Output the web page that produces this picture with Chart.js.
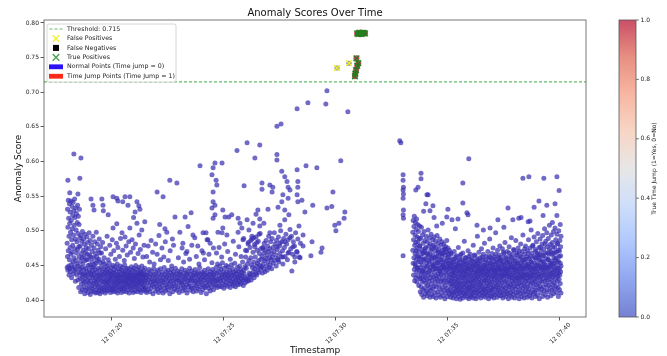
<!DOCTYPE html>
<html>
<head>
<meta charset="utf-8">
<script src="https://cdn.jsdelivr.net/npm/chart.js@4.4.1/dist/chart.umd.min.js"></script>
<style>
  html, body { margin: 0; padding: 0; background: #fff; }
  #wrap { width: 667px; height: 356px; }
</style>
</head>
<body>
<div id="wrap"><canvas id="c" width="667" height="356"></canvas></div>
<script>
// x values are seconds after 07:00:00 on day 12
const THRESHOLD = 0.715;
const X_MIN = 1018, X_MAX = 2470;
const Y_MIN = 0.3755, Y_MAX = 0.8043;
const xTickValues = [1200, 1500, 1800, 2100, 2400];
const xTickLabels = ["12 07:20", "12 07:25", "12 07:30", "12 07:35", "12 07:40"];
const yTickValues = [0.40, 0.45, 0.50, 0.55, 0.60, 0.65, 0.70, 0.75, 0.80];
const colorbarTicks = [0.0, 0.2, 0.4, 0.6, 0.8, 1.0];
const legendLabels = ["Threshold: 0.715", "False Positives", "False Negatives", "True Positives",
  "Normal Points (Time jump = 0)", "Time Jump Points (Time Jump = 1)"];

// normal points, first run (dense band)
const leftBand = [
[1080,.447],[1080,.482],[1081,.531],[1081,.463],[1082,.505],[1082,.443],[1083,.544],[1083,.471],[1084,.518],[1084,.449],[1085,.492],[1085,.436],[1086,.539],[1086,.458],[1087,.511],[1087,.445],[1088,.527],[1088,.476],[1089,.498],[1089,.441],[1090,.543],[1090,.466],[1091,.515],[1091,.451],[1092,.487],[1092,.432],[1093,.535],[1093,.469],[1094,.503],[1094,.446],[1095,.522],[1095,.479],[1096,.541],[1096,.455],[1097,.494],[1097,.438],[1098,.529],[1098,.461],[1099,.508],[1099,.448],[1100,.546],[1100,.474],[1101,.519],[1101,.442],[1102,.488],[1102,.427],[1103,.533],[1103,.457],[1104,.501],[1104,.444],[1105,.525],[1105,.468],[1106,.484],[1106,.436],[1107,.512],[1107,.452],[1108,.537],[1108,.473],[1109,.496],[1109,.429],[1110,.521],[1110,.449],[1111,.477],[1111,.418],[1112,.509],[1112,.462],[1113,.531],[1113,.439],[1114,.490],[1114,.445],
[1115,.478],[1115,.431],[1116,.456],[1116,.412],[1117,.493],[1117,.440],[1118,.467],[1118,.423],[1119,.485],[1119,.447],[1120,.434],[1120,.461],[1121,.415],[1121,.499],[1122,.452],[1122,.428],[1123,.472],[1123,.437],[1124,.419],[1124,.488],[1125,.444],[1125,.463],[1126,.426],[1126,.481],[1127,.438],[1127,.409],[1128,.457],[1128,.495],[1129,.431],[1129,.469],[1130,.446],[1130,.414],[1131,.476],[1131,.435],[1132,.423],[1132,.458],[1133,.491],[1133,.441],[1134,.417],[1134,.466],[1135,.429],[1135,.483],[1136,.450],[1136,.411],[1137,.437],[1137,.474],[1138,.425],[1138,.459],[1139,.443],[1139,.497],[1140,.418],[1140,.465],[1141,.432],[1141,.451],[1142,.408],[1142,.486],[1143,.439],[1143,.427],[1144,.462],[1144,.413],[1145,.448],[1145,.479],[1146,.421],[1146,.436],[1147,.470],[1147,.442],[1148,.416],[1148,.455],[1149,.433],[1149,.492],[1150,.424],[1150,.447],[1151,.461],[1151,.412],[1152,.438],[1152,.475],[1153,.428],[1153,.451],[1154,.419],[1154,.484],[1155,.444],[1155,.432],[1156,.467],[1156,.410],[1157,.426],[1157,.453],[1158,.440],[1158,.498],[1159,.415],[1159,.463],[1160,.435],[1160,.422],[1161,.457],[1161,.481],[1162,.429],[1162,.411],[1163,.446],[1163,.472],[1164,.420],[1164,.437],[1165,.459],[1165,.414],[1166,.488],[1166,.431],[1167,.443],[1167,.425],[1168,.468],[1168,.409],[1169,.436],[1169,.454],[1170,.418],[1170,.477],
[1171,.433],[1172,.416],[1172,.448],[1173,.427],[1174,.441],[1174,.412],[1175,.437],[1176,.422],[1176,.455],[1177,.430],[1178,.445],[1178,.414],[1179,.426],[1180,.439],[1180,.419],[1181,.452],[1182,.434],[1182,.410],[1183,.428],[1184,.443],[1184,.417],[1185,.436],[1186,.424],[1186,.449],[1187,.413],[1188,.431],[1188,.440],[1189,.421],[1190,.446],[1190,.427],[1191,.415],[1192,.438],[1192,.425],[1193,.453],[1194,.418],[1194,.433],[1195,.442],[1196,.411],[1196,.429],[1197,.437],[1198,.420],[1198,.447],[1199,.432],[1200,.414],[1200,.440],[1201,.426],[1202,.435],[1202,.417],[1203,.450],[1204,.423],[1204,.412],[1205,.439],[1206,.428],[1206,.444],[1207,.416],[1208,.434],[1208,.421],[1209,.448],[1210,.430],[1210,.413],[1211,.441],[1212,.425],[1212,.436],[1213,.419],[1214,.452],[1214,.431],[1215,.410],[1216,.437],[1216,.424],[1217,.445],[1218,.418],[1218,.433],[1219,.427],[1220,.442],[1220,.414],[1221,.435],[1222,.422],[1222,.449],[1223,.429],[1224,.416],[1224,.438],[1225,.426],[1226,.443],[1226,.411],[1227,.432],[1228,.420],[1228,.447],[1229,.435],[1230,.417],[1230,.428],[1231,.440],[1232,.423],[1232,.413],[1233,.437],[1234,.430],[1234,.451],[1235,.418],[1236,.426],[1236,.441],[1237,.434],[1238,.412],[1238,.445],[1239,.424],[1240,.431],[1240,.419],[1241,.438],[1242,.427],[1242,.446],[1243,.415],[1244,.433],[1244,.422],[1245,.440],[1246,.429],[1246,.410],[1247,.436],[1248,.421],[1248,.444],[1249,.431],[1250,.417],[1250,.439],[1251,.425],[1252,.434],[1252,.448],[1253,.414],[1254,.428],[1254,.437],[1255,.420],[1256,.443],[1256,.426],[1257,.411],[1258,.435],[1258,.430],[1259,.446],[1260,.419],[1260,.432],[1261,.424],[1262,.441],[1262,.413],[1263,.436],[1264,.427],[1264,.450],[1265,.418],[1266,.433],[1266,.422],[1267,.439],[1268,.429],[1268,.412],[1269,.444],[1270,.425],[1270,.436],[1271,.416],[1272,.431],[1272,.447],[1273,.421],[1274,.438],[1274,.428],[1275,.414],[1276,.435],[1276,.442],[1277,.423],[1278,.430],[1278,.411],[1279,.440],[1280,.426],[1280,.449],[1281,.419],[1282,.434],[1282,.437],[1283,.415],[1284,.443],[1284,.428],[1285,.421],[1286,.438],[1286,.432],[1287,.417],[1288,.446],[1288,.425],[1289,.413],[1290,.436],[1290,.429],
[1172,.468],[1175,.483],[1179,.461],[1183,.474],[1187,.492],[1190,.458],[1194,.479],[1197,.466],[1201,.487],[1203,.504],[1205,.471],[1209,.459],[1212,.482],[1213,.510],[1216,.476],[1220,.463],[1223,.489],[1227,.497],[1229,.472],[1233,.457],[1235,.491],[1238,.478],[1241,.465],[1245,.484],[1248,.504],[1250,.469],[1254,.487],[1257,.475],[1260,.460],[1263,.481],[1267,.511],[1270,.467],[1273,.494],[1276,.473],[1280,.501],[1283,.462],[1286,.479],[1288,.513],
[1291,.418],[1292,.432],[1293,.411],[1294,.440],[1295,.425],[1296,.436],[1297,.415],[1298,.429],[1299,.444],[1300,.421],[1301,.433],[1302,.412],[1303,.438],[1304,.426],[1305,.417],[1306,.442],[1307,.430],[1308,.422],[1309,.435],[1310,.409],[1311,.427],[1312,.446],[1313,.419],[1314,.437],[1315,.424],[1316,.431],[1317,.413],[1318,.440],[1319,.428],[1320,.420],[1321,.434],[1322,.416],[1323,.443],[1324,.426],[1325,.411],[1326,.438],[1327,.423],[1328,.432],[1329,.418],[1330,.445],[1331,.429],[1332,.414],[1333,.436],[1334,.421],[1335,.440],[1336,.427],[1337,.410],[1338,.433],[1339,.425],[1340,.447],[1341,.417],[1342,.437],[1343,.430],[1344,.413],[1345,.441],[1346,.422],[1347,.434],[1348,.419],[1349,.428],[1350,.443],[1351,.415],[1352,.436],[1353,.424],[1354,.431],[1355,.409],[1356,.439],[1357,.426],[1358,.418],[1359,.444],[1360,.432],[1361,.420],[1362,.437],[1363,.412],[1364,.428],[1365,.441],[1366,.423],[1367,.435],[1368,.416],[1369,.430],[1370,.446],[1371,.421],[1372,.438],[1373,.427],[1374,.414],[1375,.433],[1376,.442],[1377,.419],[1378,.429],[1379,.436],[1380,.411],[1381,.425],[1382,.440],[1383,.431],[1384,.417],[1385,.437],[1386,.424],[1387,.445],[1388,.428],[1389,.413],[1390,.434],[1391,.421],[1392,.439],[1393,.426],[1394,.418],[1395,.432],[1396,.443],[1397,.415],[1398,.430],[1399,.436],[1400,.422],[1401,.410],[1402,.438],[1403,.427],[1404,.441],[1405,.419],[1406,.433],[1407,.424],[1408,.446],[1409,.429],[1410,.414],[1411,.437],[1412,.420],[1413,.431],[1414,.442],[1415,.417],[1416,.428],[1417,.435],[1418,.412],[1419,.439],[1420,.425],[1421,.432],[1422,.418],[1423,.444],[1424,.427],[1425,.436],[1426,.421],[1427,.413],[1428,.438],[1429,.430],[1430,.424],[1431,.441],[1432,.416],[1433,.434],[1434,.427],[1435,.447],[1436,.419],[1437,.431],[1438,.437],[1439,.411],[1440,.426],[1441,.440],[1442,.422],[1443,.433],[1444,.415],[1445,.438],[1446,.429],[1447,.420],[1448,.443],[1449,.432],[1450,.418],[1451,.436],[1452,.425],[1453,.409],[1454,.439],[1455,.428],[1456,.421],[1457,.434],[1458,.445],[1459,.417],[1460,.430],[1461,.437],[1462,.423],[1463,.413],[1464,.441],[1465,.427],[1466,.433],[1467,.419],[1468,.438],[1469,.426],[1470,.444],[1471,.431],[1472,.415],[1473,.436],[1474,.422],[1475,.440],[1476,.428],
[1293,.463],[1297,.478],[1301,.455],[1305,.486],[1309,.469],[1313,.452],[1317,.481],[1321,.466],[1326,.493],[1330,.458],[1334,.475],[1339,.462],[1343,.484],[1351,.457],[1356,.471],[1360,.449],[1365,.479],[1378,.461],[1392,.455],[1398,.467],[1408,.459],[1426,.463],[1433,.452],[1441,.471],[1448,.458],[1460,.466],[1468,.454],[1472,.475],
[1477,.433],[1478,.421],[1479,.447],[1480,.428],[1481,.439],[1482,.418],[1483,.452],[1484,.430],[1485,.425],[1486,.442],[1487,.436],[1488,.420],[1489,.449],[1490,.431],[1491,.427],[1492,.444],[1493,.419],[1494,.437],[1495,.433],[1496,.454],[1497,.424],[1498,.440],[1499,.429],[1500,.417],[1501,.446],[1502,.435],[1503,.422],[1504,.438],[1505,.431],[1506,.450],[1507,.426],[1508,.441],[1509,.420],[1510,.434],[1511,.448],[1512,.429],[1513,.437],[1514,.423],[1515,.443],[1516,.432],[1517,.418],[1518,.439],[1519,.427],[1520,.451],[1521,.435],[1522,.424],[1523,.445],[1524,.430],[1525,.421],[1526,.440],[1527,.436],[1528,.426],[1529,.453],[1530,.433],[1531,.419],[1532,.442],[1533,.429],[1534,.438],[1535,.425],[1536,.447],[1537,.432],[1538,.422],[1539,.441],[1540,.434],[1541,.428],[1542,.449],[1543,.437],[1544,.423],[1545,.444],[1546,.431],[1547,.426],[1548,.440],[1549,.435],[1550,.455],[1551,.429],[1552,.421],[1553,.443],[1554,.438],[1555,.432],
[1556,.448],[1557,.425],[1558,.462],[1559,.430],[1560,.446],[1561,.471],[1562,.427],[1563,.452],[1564,.434],[1565,.483],[1566,.428],[1567,.457],[1568,.439],[1569,.433],[1570,.476],[1571,.437],[1572,.461],[1573,.429],[1574,.451],[1575,.488],[1576,.447],[1577,.436],[1578,.469],[1579,.441],[1580,.455],[1581,.432],[1582,.480],[1583,.445],[1584,.462],[1585,.438],[1586,.491],[1587,.449],[1588,.436],[1589,.472],[1590,.453],[1591,.443],[1592,.485],[1593,.457],[1594,.440],[1595,.467],[1596,.450],[1597,.496],[1598,.446],[1599,.474],[1600,.459],
[1480,.468],[1487,.476],[1494,.462],[1502,.481],[1510,.470],[1517,.459],[1525,.485],[1531,.466],[1540,.477],[1546,.463],[1553,.489],[1558,.472],[1565,.481],[1572,.486],[1580,.490],[1588,.483],[1594,.495],
[1601,.448],[1602,.463],[1603,.439],[1604,.476],[1605,.452],[1606,.445],[1607,.468],[1608,.482],[1609,.457],[1610,.441],[1611,.472],[1612,.460],[1613,.486],[1614,.449],[1615,.465],[1616,.443],[1617,.478],[1618,.455],[1619,.470],[1620,.492],[1621,.447],[1622,.461],[1623,.474],[1624,.451],[1625,.484],[1626,.458],[1627,.467],[1628,.445],[1629,.489],[1630,.462],[1631,.476],[1632,.453],[1634,.470],[1635,.497],[1636,.457],[1637,.481],[1639,.465],[1640,.449],[1641,.486],[1643,.473],[1644,.460],[1646,.491],[1647,.455],[1649,.478],[1650,.467],[1652,.500],[1653,.462],[1655,.484],[1657,.471],[1658,.452],[1660,.489],[1662,.476],[1664,.463],[1666,.495],[1668,.481],[1670,.458],[1672,.487],[1674,.469],[1677,.502],[1679,.474],[1681,.492],[1684,.466],[1686,.484],[1689,.478],[1692,.497],[1695,.470],[1698,.488],[1702,.462],[1705,.482]
];

// normal points, first run (scattered above the band)
const leftSpread = [
[1082,.573],[1098,.611],[1117,.605],[1114,.576],[1087,.555],[1109,.553],
[1144,.546],[1149,.537],[1152,.530],[1173,.546],[1176,.537],[1177,.529],[1203,.549],[1213,.547],[1216,.543],[1229,.542],[1235,.549],[1248,.549],[1243,.537],[1267,.542],[1272,.536],[1262,.527],[1275,.531],[1190,.523],[1258,.519],
[1321,.556],[1337,.549],[1355,.573],[1374,.569],[1369,.520],[1347,.498],[1396,.520],[1412,.526],[1404,.506],[1382,.498],[1417,.494],[1422,.490],[1444,.497],[1452,.497],[1455,.487],[1414,.479],[1401,.470],[1388,.475],[1436,.594],[1463,.482],[1457,.487],[1390,.482],[1430,.478],[1445,.468],[1362,.488],[1328,.509],[1342,.503],
[1468,.533],[1476,.523],[1471,.518],[1497,.530],[1503,.520],[1497,.504],[1513,.520],[1484,.498],[1495,.497],[1508,.494],[1521,.523],[1538,.518],[1543,.511],[1548,.504],[1567,.501],[1562,.516],[1578,.511],[1586,.524],[1591,.530],[1596,.517],[1596,.507],[1538,.498],[1551,.487],[1575,.492],[1583,.477],[1471,.591],[1476,.598],[1495,.598],[1468,.581],[1479,.573],[1481,.566],[1471,.556],[1471,.542],[1476,.537],[1535,.616],[1562,.627],[1596,.624],[1583,.605],[1554,.565],[1602,.569],[1602,.560],
[1605,.475],[1623,.497],[1642,.477],[1650,.482],[1663,.484],[1677,.490],[1685,.477],[1672,.468],[1658,.462],[1645,.458],[1690,.462],[1696,.469],[1607,.511],[1618,.531],[1623,.566],[1631,.563],[1629,.556],[1655,.586],[1663,.578],[1669,.571],[1672,.563],[1677,.559],[1658,.552],[1672,.547],[1655,.542],[1645,.534],[1663,.530],[1674,.523],[1663,.516],[1650,.508],[1696,.588],[1698,.563],[1698,.542],[1642,.651],[1653,.654],[1696,.676],[1642,.610],[1642,.602],
[1776,.702],[1725,.685],[1773,.683],[1832,.672],[1813,.601],[1720,.594],[1749,.591],[1792,.556],[1738,.537],[1789,.535],[1776,.533],[1824,.527],[1822,.518],[1808,.511],[1797,.508],[1800,.500],[1698,.571],[1696,.552],[1709,.544],[1717,.527],[1701,.507],[1712,.494],[1712,.478],[1736,.484],[1763,.475],[1760,.469],[1733,.464],[1704,.461],[1690,.455],[1682,.442],
[1803,.735],[1835,.742]
];

// normal points, second run (dense block)
const rightBand = [
[2006,.498],[2006,.472],[2007,.515],[2007,.453],[2008,.487],[2008,.436],[2009,.506],[2009,.461],[2010,.521],[2010,.444],[2011,.479],[2011,.428],[2012,.494],[2012,.467],[2013,.512],[2013,.449],[2014,.483],[2014,.432],[2015,.502],[2015,.458],[2016,.517],[2016,.441],[2017,.475],[2017,.426],[2018,.491],[2018,.464],[2019,.509],[2019,.446],[2020,.484],[2020,.435],[2021,.499],[2021,.455],[2022,.470],[2022,.421],[2023,.489],[2023,.443],[2024,.507],[2024,.460],[2025,.478],[2025,.431],
[2026,.447],[2026,.412],[2027,.489],[2027,.431],[2028,.462],[2028,.419],[2029,.505],[2029,.438],[2030,.473],[2030,.408],[2031,.451],[2031,.426],[2032,.494],[2032,.443],[2033,.467],[2033,.415],[2034,.482],[2034,.434],[2035,.457],[2035,.404],[2036,.499],[2036,.428],[2037,.470],[2037,.446],[2038,.441],[2038,.417],[2039,.486],[2039,.433],[2040,.460],[2040,.409],[2041,.476],[2041,.424],[2042,.492],[2042,.439],[2043,.453],[2043,.413],[2044,.468],[2044,.430],[2045,.484],[2045,.406],[2046,.449],[2046,.421],[2047,.501],[2047,.436],[2048,.463],[2048,.411],[2049,.478],[2049,.427],[2050,.455],[2050,.442],[2051,.490],[2051,.418],[2052,.466],[2052,.404],[2053,.481],[2053,.432],[2054,.447],[2054,.414],[2055,.495],[2055,.437],[2056,.459],[2056,.423],[2057,.474],[2057,.408],[2058,.452],[2058,.429],[2059,.487],[2059,.444],[2060,.465],[2060,.416],[2061,.479],[2061,.405],[2062,.450],[2062,.433],[2063,.491],[2063,.420],[2064,.461],[2064,.440],[2065,.471],[2065,.410],[2066,.456],[2066,.426],[2067,.485],[2067,.435],[2068,.448],[2068,.403],[2069,.476],[2069,.419],[2070,.462],[2070,.431],[2071,.493],[2071,.445],[2072,.454],[2072,.412],[2073,.469],[2073,.428],[2074,.482],[2074,.438],[2075,.445],[2075,.407],[2076,.473],[2076,.422],[2077,.458],[2077,.434],[2078,.488],[2078,.416],[2079,.451],[2079,.441],[2080,.466],[2080,.404],[2081,.479],[2081,.427],[2082,.447],[2082,.437],[2083,.463],[2083,.411],[2084,.484],[2084,.430],[2085,.455],[2085,.418],[2086,.472],[2086,.443],[2087,.449],[2087,.406],[2088,.468],[2088,.425],[2089,.481],[2089,.436],[2090,.458],[2090,.414],[2091,.474],[2091,.429],[2092,.446],[2092,.402],[2093,.465],[2093,.421],[2094,.477],[2094,.439],[2095,.452],[2095,.410],[2096,.469],[2096,.432],[2097,.486],[2097,.417],[2098,.448],[2098,.426],[2099,.461],[2099,.405],[2100,.475],[2100,.440],[2101,.454],[2101,.413],[2102,.467],[2102,.428],[2103,.446],[2103,.434],[2104,.472],[2104,.409],[2105,.457],[2105,.423],
[2106,.437],[2106,.415],[2107,.452],[2107,.404],[2108,.428],[2108,.446],[2109,.419],[2109,.466],[2110,.433],[2110,.408],[2111,.441],[2111,.424],[2112,.459],[2112,.412],[2113,.430],[2113,.448],[2114,.403],[2114,.437],[2115,.421],[2115,.455],[2116,.444],[2116,.410],[2117,.427],[2117,.470],[2118,.435],[2118,.416],[2119,.451],[2119,.406],[2120,.439],[2120,.423],[2121,.462],[2121,.413],[2122,.431],[2122,.447],[2123,.418],[2123,.402],[2124,.442],[2124,.426],[2125,.457],[2125,.409],[2126,.434],[2126,.420],[2127,.449],[2127,.414],[2128,.429],[2128,.476],[2129,.405],[2129,.438],[2130,.423],[2130,.453],[2131,.445],[2131,.411],[2132,.432],[2132,.417],[2133,.464],[2133,.401],[2134,.440],[2134,.425],[2135,.450],[2135,.412],[2136,.436],[2136,.419],[2137,.458],[2137,.407],[2138,.428],[2138,.444],[2139,.415],[2139,.433],[2140,.468],[2140,.403],[2141,.439],[2141,.422],[2142,.452],[2142,.410],[2143,.431],[2143,.446],[2144,.418],[2144,.485],[2145,.435],[2145,.406],[2146,.456],[2146,.424],[2147,.442],[2147,.413],[2148,.427],[2148,.461],[2149,.409],[2149,.437],[2150,.420],[2150,.448],[2151,.433],[2151,.404],[2152,.454],[2152,.416],[2153,.440],[2153,.426],[2154,.471],[2154,.411],[2155,.430],[2155,.445],[2156,.418],[2156,.402],[2157,.438],[2157,.459],[2158,.423],[2158,.414],[2159,.447],[2159,.407],[2160,.434],[2160,.466],[2161,.419],[2161,.428],[2162,.451],[2162,.405],[2163,.436],[2163,.413],[2164,.443],[2164,.425],[2165,.460],[2165,.409],[2166,.431],[2166,.420],[2167,.449],[2167,.403],[2168,.439],[2168,.479],[2169,.416],[2169,.427],[2170,.455],[2170,.411],[2171,.433],[2171,.444],[2172,.421],[2172,.406],[2173,.464],[2173,.437],[2174,.414],[2174,.429],[2175,.450],[2175,.402],[2176,.440],[2176,.423],[2177,.457],[2177,.410],[2178,.432],[2178,.446],[2179,.417],[2179,.492],[2180,.435],[2180,.405],[2181,.453],[2181,.426],[2182,.442],[2182,.412],[2183,.469],[2183,.419],[2184,.430],[2184,.448],[2185,.408],[2185,.438],[2186,.424],[2186,.461],[2187,.414],[2187,.434],[2188,.452],[2188,.403],[2189,.441],[2189,.421],[2190,.474],[2190,.427],[2191,.411],[2191,.445],[2192,.436],[2192,.418],[2193,.458],[2193,.406],[2194,.431],[2194,.443],[2195,.415],[2195,.466],[2196,.439],[2196,.424],[2197,.450],[2197,.409],[2198,.428],[2198,.482],[2199,.416],[2199,.437],[2200,.455],[2200,.404],[2201,.433],[2201,.446],[2202,.420],[2202,.412],[2203,.463],[2203,.429],[2204,.441],[2204,.407],[2205,.425],[2205,.452],[2206,.436],[2206,.417],[2207,.470],[2207,.410],[2208,.432],[2208,.444],[2209,.421],[2209,.402],[2210,.457],[2210,.438],[2211,.414],[2211,.427],[2212,.449],[2212,.488],[2213,.435],[2213,.406],[2214,.461],[2214,.423],[2215,.443],[2215,.412],[2216,.430],[2216,.453],[2217,.418],[2217,.405],[2218,.440],[2218,.467],[2219,.426],[2219,.415],[2220,.447],[2220,.434],[2221,.409],[2221,.475],[2222,.437],[2222,.420],[2223,.456],[2223,.403],[2224,.431],[2224,.444],[2225,.416],[2225,.462],[2226,.439],[2226,.425],[2227,.451],[2227,.408],[2228,.433],[2228,.497],[2229,.419],[2229,.442],[2230,.459],[2230,.411],[2231,.428],[2231,.436],[2232,.446],[2232,.404],[2233,.472],[2233,.422],[2234,.414],[2234,.439],[2235,.454],[2235,.430],[2236,.417],[2236,.448],[2237,.465],[2237,.407],[2238,.435],[2238,.424],[2239,.443],[2239,.478],[2240,.412],[2240,.458],
[2241,.429],[2241,.446],[2242,.406],[2242,.437],[2243,.462],[2243,.418],[2244,.433],[2244,.452],[2245,.411],[2245,.425],[2246,.441],[2246,.474],[2247,.403],[2247,.436],[2248,.456],[2248,.420],[2249,.431],[2249,.444],[2250,.414],[2250,.467],[2251,.439],[2251,.408],[2252,.450],[2252,.426],[2253,.435],[2253,.483],[2254,.417],[2254,.445],[2255,.460],[2255,.405],[2256,.428],[2256,.438],[2257,.453],[2257,.412],[2258,.442],[2258,.421],[2259,.470],[2259,.434],[2260,.409],[2260,.448],[2261,.424],[2261,.458],[2262,.437],[2262,.402],[2263,.446],[2263,.415],[2264,.477],[2264,.430],[2265,.419],[2265,.440],[2266,.455],[2266,.407],[2267,.433],[2267,.463],[2268,.422],[2268,.447],[2269,.411],[2269,.436],[2270,.451],[2270,.490],[2271,.427],[2271,.404],[2272,.443],[2272,.418],[2273,.466],[2273,.432],[2274,.413],[2274,.439],[2275,.457],[2275,.425],[2276,.446],[2276,.408],[2277,.472],[2277,.435],[2278,.420],[2278,.449],[2279,.430],[2279,.403],[2280,.461],[2280,.441],[2281,.416],[2281,.452],[2282,.428],[2282,.486],[2283,.437],[2283,.410],[2284,.445],[2284,.423],[2285,.468],[2285,.433],[2286,.406],[2286,.454],[2287,.419],[2287,.442],[2288,.431],[2288,.475],[2289,.412],[2289,.448],[2290,.436],[2290,.424],[2291,.459],[2291,.402],[2292,.440],[2292,.429],[2293,.464],[2293,.415],[2294,.446],[2294,.433],[2295,.409],[2295,.481],[2296,.438],[2296,.421],[2297,.453],[2297,.426],[2298,.444],[2298,.405],[2299,.470],[2299,.434],[2300,.417],[2300,.450],[2301,.432],[2301,.494],[2302,.411],[2302,.441],[2303,.458],[2303,.424],[2304,.436],[2304,.403],[2305,.447],[2305,.466],[2306,.420],[2306,.430],[2307,.455],[2307,.413],[2308,.439],[2308,.478],[2309,.427],[2309,.408],[2310,.449],[2310,.436],[2311,.462],[2311,.418],[2312,.431],[2312,.445],[2313,.404],[2313,.471],[2314,.437],[2314,.423],[2315,.452],[2315,.412],[2316,.443],[2316,.487],[2317,.428],[2317,.416],[2318,.460],[2318,.434],[2319,.406],[2319,.448],[2320,.439],[2320,.475],[2321,.421],[2321,.432],[2322,.456],[2322,.410],[2323,.444],[2323,.501],[2324,.426],[2324,.437],[2325,.468],[2325,.403],[2326,.433],[2326,.451],[2327,.415],[2327,.441],[2328,.479],[2328,.425],[2329,.446],[2329,.409],[2330,.436],[2330,.463],[2331,.419],[2331,.491],[2332,.430],[2332,.453],[2333,.412],[2333,.440],[2334,.473],[2334,.427],[2335,.447],[2335,.405],[2336,.435],[2336,.459],[2337,.422],[2337,.484],[2338,.442],[2338,.414],[2339,.467],[2339,.431],[2340,.450],[2340,.407],[2341,.438],[2341,.496],[2342,.424],[2342,.445],[2343,.461],[2343,.417],[2344,.433],[2344,.476],[2345,.449],[2345,.402],[2346,.437],[2346,.465],[2347,.420],[2347,.488],[2348,.443],[2348,.428],[2349,.455],[2349,.411],[2350,.434],[2350,.470],[2351,.446],[2351,.416],[2352,.481],[2352,.426],[2353,.439],[2353,.457],[2354,.405],[2354,.493],[2355,.431],[2355,.448],[2356,.464],[2356,.419],[2357,.442],[2357,.474],[2358,.413],[2358,.436],[2359,.452],[2359,.503],[2360,.427],[2360,.444],[2361,.468],[2361,.408],[2362,.437],[2362,.485],[2363,.422],[2363,.450],[2364,.460],[2364,.432],[2365,.415],[2365,.497],[2366,.445],[2366,.429],[2367,.477],[2367,.404],[2368,.439],[2368,.458],[2369,.421],[2369,.489],[2370,.447],[2370,.433],[2371,.466],[2371,.412],[2372,.441],[2372,.508],[2373,.426],[2373,.454],[2374,.435],[2374,.480],[2375,.418],[2375,.448],[2376,.470],[2376,.406],[2377,.438],[2377,.494],[2378,.429],[2378,.456],[2379,.444],[2379,.414],[2380,.483],[2380,.433],[2381,.452],[2381,.422],[2382,.467],[2382,.440],[2383,.409],[2383,.499],[2384,.436],[2384,.461],[2385,.425],[2385,.447],[2386,.476],[2386,.416],[2387,.443],[2387,.504],[2388,.431],[2388,.458],[2389,.420],[2389,.487],[2390,.449],[2390,.437],[2391,.469],[2391,.411],[2392,.442],[2392,.495],[2393,.427],[2393,.455],[2394,.434],[2394,.481],[2395,.418],[2395,.446],[2396,.472],[2396,.405],[2397,.439],[2397,.500],[2398,.430],[2398,.463],[2399,.445],[2399,.415],[2400,.486],[2400,.436],[2401,.453],[2401,.424],[2402,.477],[2402,.441],[2403,.410],[2403,.492]
];

// normal points, second run (upper part of the block)
const rightBandUpper = [
[2012,.452],[2015,.471],[2018,.447],[2021,.463],[2024,.478],[2027,.455],[2030,.441],[2033,.468],[2036,.459],[2039,.474],[2042,.448],[2045,.466],[2048,.457],[2051,.443],[2054,.472],[2057,.461],[2060,.450],[2063,.477],[2066,.445],[2069,.463],[2072,.454],[2075,.469],[2078,.442],[2081,.458],[2084,.467],[2087,.451],[2090,.446],[2093,.473],[2096,.456],[2099,.444],[2102,.462],[2105,.449],[2108,.468],[2111,.453],[2114,.441],[2117,.459],[2120,.447],[2123,.464],[2126,.452],[2129,.443],[2132,.458],[2135,.466],[2138,.449],[2141,.455],[2144,.442],[2147,.461],[2150,.451],[2153,.446],[2156,.463],[2159,.454],[2162,.443],[2165,.457],[2168,.448],[2171,.465],[2174,.452],[2177,.441],[2180,.459],[2183,.447],[2186,.456],[2189,.444],[2192,.462],[2195,.450],[2198,.445],[2201,.458],[2204,.449],[2207,.442],[2210,.463],[2213,.453],[2216,.446],[2219,.460],[2222,.451],[2225,.443],[2228,.466],[2231,.455],[2234,.448],[2237,.461],[2240,.444],[2243,.457],[2246,.451],[2249,.469],[2252,.446],[2255,.462],[2258,.455],[2261,.443],[2264,.468],[2267,.452],[2270,.461],[2273,.447],[2276,.473],[2279,.456],[2282,.444],[2285,.465],[2288,.453],[2291,.470],[2294,.449],[2297,.462],[2300,.457],[2303,.445],[2306,.474],[2309,.459],[2312,.451],[2315,.467],[2318,.448],[2321,.463],[2324,.455],[2327,.478],[2330,.446],[2333,.461],[2336,.470],[2339,.452],[2342,.465],[2345,.458],[2348,.476],[2351,.449],[2354,.464],[2357,.455],[2360,.481],[2363,.447],[2366,.468],[2369,.459],[2372,.473],[2375,.451],[2378,.466],[2381,.477],[2384,.453],[2387,.469],[2390,.461],[2393,.482],[2396,.456],[2399,.471],[2402,.464],[2403,.449]
];

// normal points, second run (scattered)
const rightSpread = [
[1971,.630],[1974,.627],[1980,.581],[1980,.573],[1981,.563],[1980,.559],[1981,.553],[1980,.547],[1981,.530],[1980,.523],[1981,.518],[1980,.464],
[2028,.583],[2028,.575],[2020,.563],[2014,.559],[2044,.552],[2041,.539],[2060,.536],[2052,.529],[2100,.531],[2140,.540],[2151,.526],[2154,.523],[2097,.520],[2111,.516],[2127,.517],[2178,.508],[2156,.604],[2140,.569],[2047,.552],[2063,.519],[2085,.511],[2213,.504],[2290,.518],[2301,.576],[2317,.578],[2357,.576],[2392,.578],[2398,.558],[2344,.543],[2365,.537],[2331,.534],[2387,.539],[2261,.533],[2234,.516],[2274,.516],[2296,.519],[2320,.514],[2355,.522],[2392,.522],[2315,.513],[2070,.507],[2035,.528],[2120,.503],[2195,.501],[2250,.505],[2380,.512],[2401,.509]
];

const jumpPoints = [
[1857,.785],[1860,.784],[1863,.786],[1866,.785],[1869,.784],[1872,.786],[1875,.785],[1878,.785],
[1855,.749],[1860,.742],[1857,.738],[1854,.732],[1852,.727],[1851,.723]
];
const truePositives = [
[1857,.785],[1860,.784],[1863,.786],[1866,.785],[1869,.784],[1872,.786],[1875,.785],[1878,.785],
[1855,.749],[1860,.742],[1857,.738],[1854,.732],[1852,.727],[1851,.723]
];
const falsePositives = [[1803,.735],[1835,.742]];
const falseNegatives = [];

const FONT = "'DejaVu Sans', sans-serif";
const toXY = arr => arr.map(p => ({ x: p[0], y: p[1] }));
const normalPoints = leftBand.concat(leftSpread, rightBand, rightBandUpper, rightSpread);

// coolwarm colormap, drawn with alpha 0.7 like the scatter
const coolwarm = [
  [0.0, 59, 76, 192], [0.125, 96, 128, 232], [0.25, 141, 176, 254], [0.375, 184, 208, 249],
  [0.5, 221, 220, 220], [0.625, 244, 196, 173], [0.75, 244, 152, 122], [0.875, 222, 96, 76], [1.0, 180, 4, 38]
];

const decorations = {
  id: 'decorations',
  afterDraw(chart) {
    const { ctx, chartArea: a } = chart;
    ctx.save();

    // frame around the axes
    ctx.strokeStyle = '#555';
    ctx.lineWidth = 0.8;
    ctx.strokeRect(a.left, a.top, a.right - a.left, a.bottom - a.top);

    // title
    ctx.fillStyle = '#111';
    ctx.font = '10px ' + FONT;
    ctx.textAlign = 'center';
    ctx.textBaseline = 'middle';
    ctx.fillText('Anomaly Scores Over Time', (a.left + a.right) / 2, 13);

    // legend box
    const lx = 47, ly = 24, lw = 129, lh = 58;
    ctx.fillStyle = 'rgba(255,255,255,0.85)';
    ctx.strokeStyle = '#ccc';
    ctx.lineWidth = 0.8;
    ctx.beginPath();
    ctx.roundRect(lx, ly, lw, lh, 2);
    ctx.fill();
    ctx.stroke();

    const rowY = i => 29 + i * 9.45;
    const hx = 56;
    ctx.font = '6.3px ' + FONT;
    ctx.textAlign = 'left';
    ctx.textBaseline = 'middle';
    legendLabels.forEach((t, i) => {
      ctx.fillStyle = '#222';
      ctx.fillText(t, 67, rowY(i));
    });
    // threshold handle
    ctx.strokeStyle = 'rgba(76,175,80,0.85)';
    ctx.lineWidth = 1.2;
    ctx.setLineDash([3, 2]);
    ctx.beginPath(); ctx.moveTo(49.5, rowY(0)); ctx.lineTo(63, rowY(0)); ctx.stroke();
    ctx.setLineDash([]);
    const cross = (y, color) => {
      ctx.strokeStyle = color; ctx.lineWidth = 1.4;
      ctx.beginPath();
      ctx.moveTo(hx - 3.3, y - 3.3); ctx.lineTo(hx + 3.3, y + 3.3);
      ctx.moveTo(hx + 3.3, y - 3.3); ctx.lineTo(hx - 3.3, y + 3.3);
      ctx.stroke();
    };
    cross(rowY(1), 'rgba(240,240,40,0.95)');
    ctx.fillStyle = '#000';
    ctx.fillRect(hx - 3, rowY(2) - 3, 6, 6);
    cross(rowY(3), 'rgba(60,150,60,0.9)');
    ctx.fillStyle = '#2a12f5';
    ctx.fillRect(49, rowY(4) - 2.4, 14, 4.8);
    ctx.fillStyle = '#fa2a1a';
    ctx.fillRect(49, rowY(5) - 2.4, 14, 4.8);

    // colorbar
    const cx = 619, cw = 17, ctop = a.top, cbot = a.bottom;
    const g = ctx.createLinearGradient(0, cbot, 0, ctop);
    coolwarm.forEach(s => g.addColorStop(s[0], `rgba(${s[1]},${s[2]},${s[3]},0.7)`));
    ctx.fillStyle = g;
    ctx.fillRect(cx, ctop, cw, cbot - ctop);
    ctx.strokeStyle = '#555';
    ctx.lineWidth = 0.8;
    ctx.strokeRect(cx, ctop, cw, cbot - ctop);
    ctx.font = '6px ' + FONT;
    ctx.fillStyle = '#222';
    ctx.textAlign = 'left';
    colorbarTicks.forEach(v => {
      const y = cbot - v * (cbot - ctop);
      ctx.beginPath(); ctx.moveTo(cx + cw, y); ctx.lineTo(cx + cw + 3, y); ctx.stroke();
      ctx.fillText(v.toFixed(1), cx + cw + 4.5, y);
    });
    ctx.save();
    ctx.translate(654, (ctop + cbot) / 2);
    ctx.rotate(-Math.PI / 2);
    ctx.textAlign = 'center';
    ctx.font = '6px ' + FONT;
    ctx.fillText('True Time Jump (1=Yes, 0=No)', 0, 0);
    ctx.restore();

    ctx.restore();
  }
};

new Chart(document.getElementById('c'), {
  type: 'scatter',
  data: {
    datasets: [
      { label: 'True Positives', data: toXY(truePositives), pointStyle: 'crossRot', pointRadius: 4,
        borderColor: 'rgba(30,130,30,0.9)', borderWidth: 1.6, backgroundColor: 'transparent', order: 0 },
      { label: 'False Positives', data: toXY(falsePositives), pointStyle: 'crossRot', pointRadius: 4,
        borderColor: 'rgba(240,240,40,0.95)', borderWidth: 1.6, backgroundColor: 'transparent', order: 1 },
      { label: 'False Negatives', data: toXY(falseNegatives), pointStyle: 'rect', pointRadius: 3,
        backgroundColor: '#000', borderWidth: 0, order: 2 },
      { label: 'Time Jump Points', data: toXY(jumpPoints), pointRadius: 3,
        backgroundColor: 'rgba(180,4,38,0.75)', borderWidth: 0, order: 3 },
      { label: 'Normal Points', data: toXY(normalPoints), pointRadius: 2.5,
        backgroundColor: 'rgba(58,48,178,0.72)', borderWidth: 0, order: 4 },
      { type: 'line', label: 'Threshold', data: [{ x: X_MIN, y: THRESHOLD }, { x: X_MAX, y: THRESHOLD }],
        borderColor: 'rgba(76,175,80,0.85)', borderWidth: 1.2, borderDash: [3, 2], pointRadius: 0, order: 5 }
    ]
  },
  options: {
    responsive: false,
    animation: false,
    devicePixelRatio: 1,
    events: [],
    layout: { padding: { top: 20, right: 81, left: 0, bottom: 0 } },
    plugins: { legend: { display: false }, tooltip: { enabled: false }, title: { display: false } },
    scales: {
      x: {
        type: 'linear', min: X_MIN, max: X_MAX,
        afterBuildTicks: s => { s.ticks = xTickValues.map(v => ({ value: v })); },
        afterFit: s => { s.height = 39; },
        grid: { drawOnChartArea: false, drawTicks: true, tickLength: 3.5, tickColor: '#333', tickWidth: 0.8 },
        border: { display: false },
        ticks: {
          autoSkip: false, minRotation: 45, maxRotation: 45, labelOffset: 10, padding: 1,
          color: '#222', font: { family: FONT, size: 6 },
          callback: v => xTickLabels[xTickValues.indexOf(v)]
        },
        title: { display: true, text: 'Timestamp', color: '#111', font: { family: FONT, size: 9 }, padding: { top: 0, bottom: 0 } }
      },
      y: {
        type: 'linear', min: Y_MIN, max: Y_MAX,
        afterBuildTicks: s => { s.ticks = yTickValues.map(v => ({ value: v })); },
        afterFit: s => { s.width = 44; },
        grid: { drawOnChartArea: false, drawTicks: true, tickLength: 3.5, tickColor: '#333', tickWidth: 0.8 },
        border: { display: false },
        ticks: { padding: 1.5, color: '#222', font: { family: FONT, size: 6 }, callback: v => v.toFixed(2) },
        title: { display: true, text: 'Anomaly Score', color: '#111', font: { family: FONT, size: 9 }, padding: { top: 13, bottom: 0 } }
      }
    }
  },
  plugins: [decorations]
});
</script>
</body>
</html>
